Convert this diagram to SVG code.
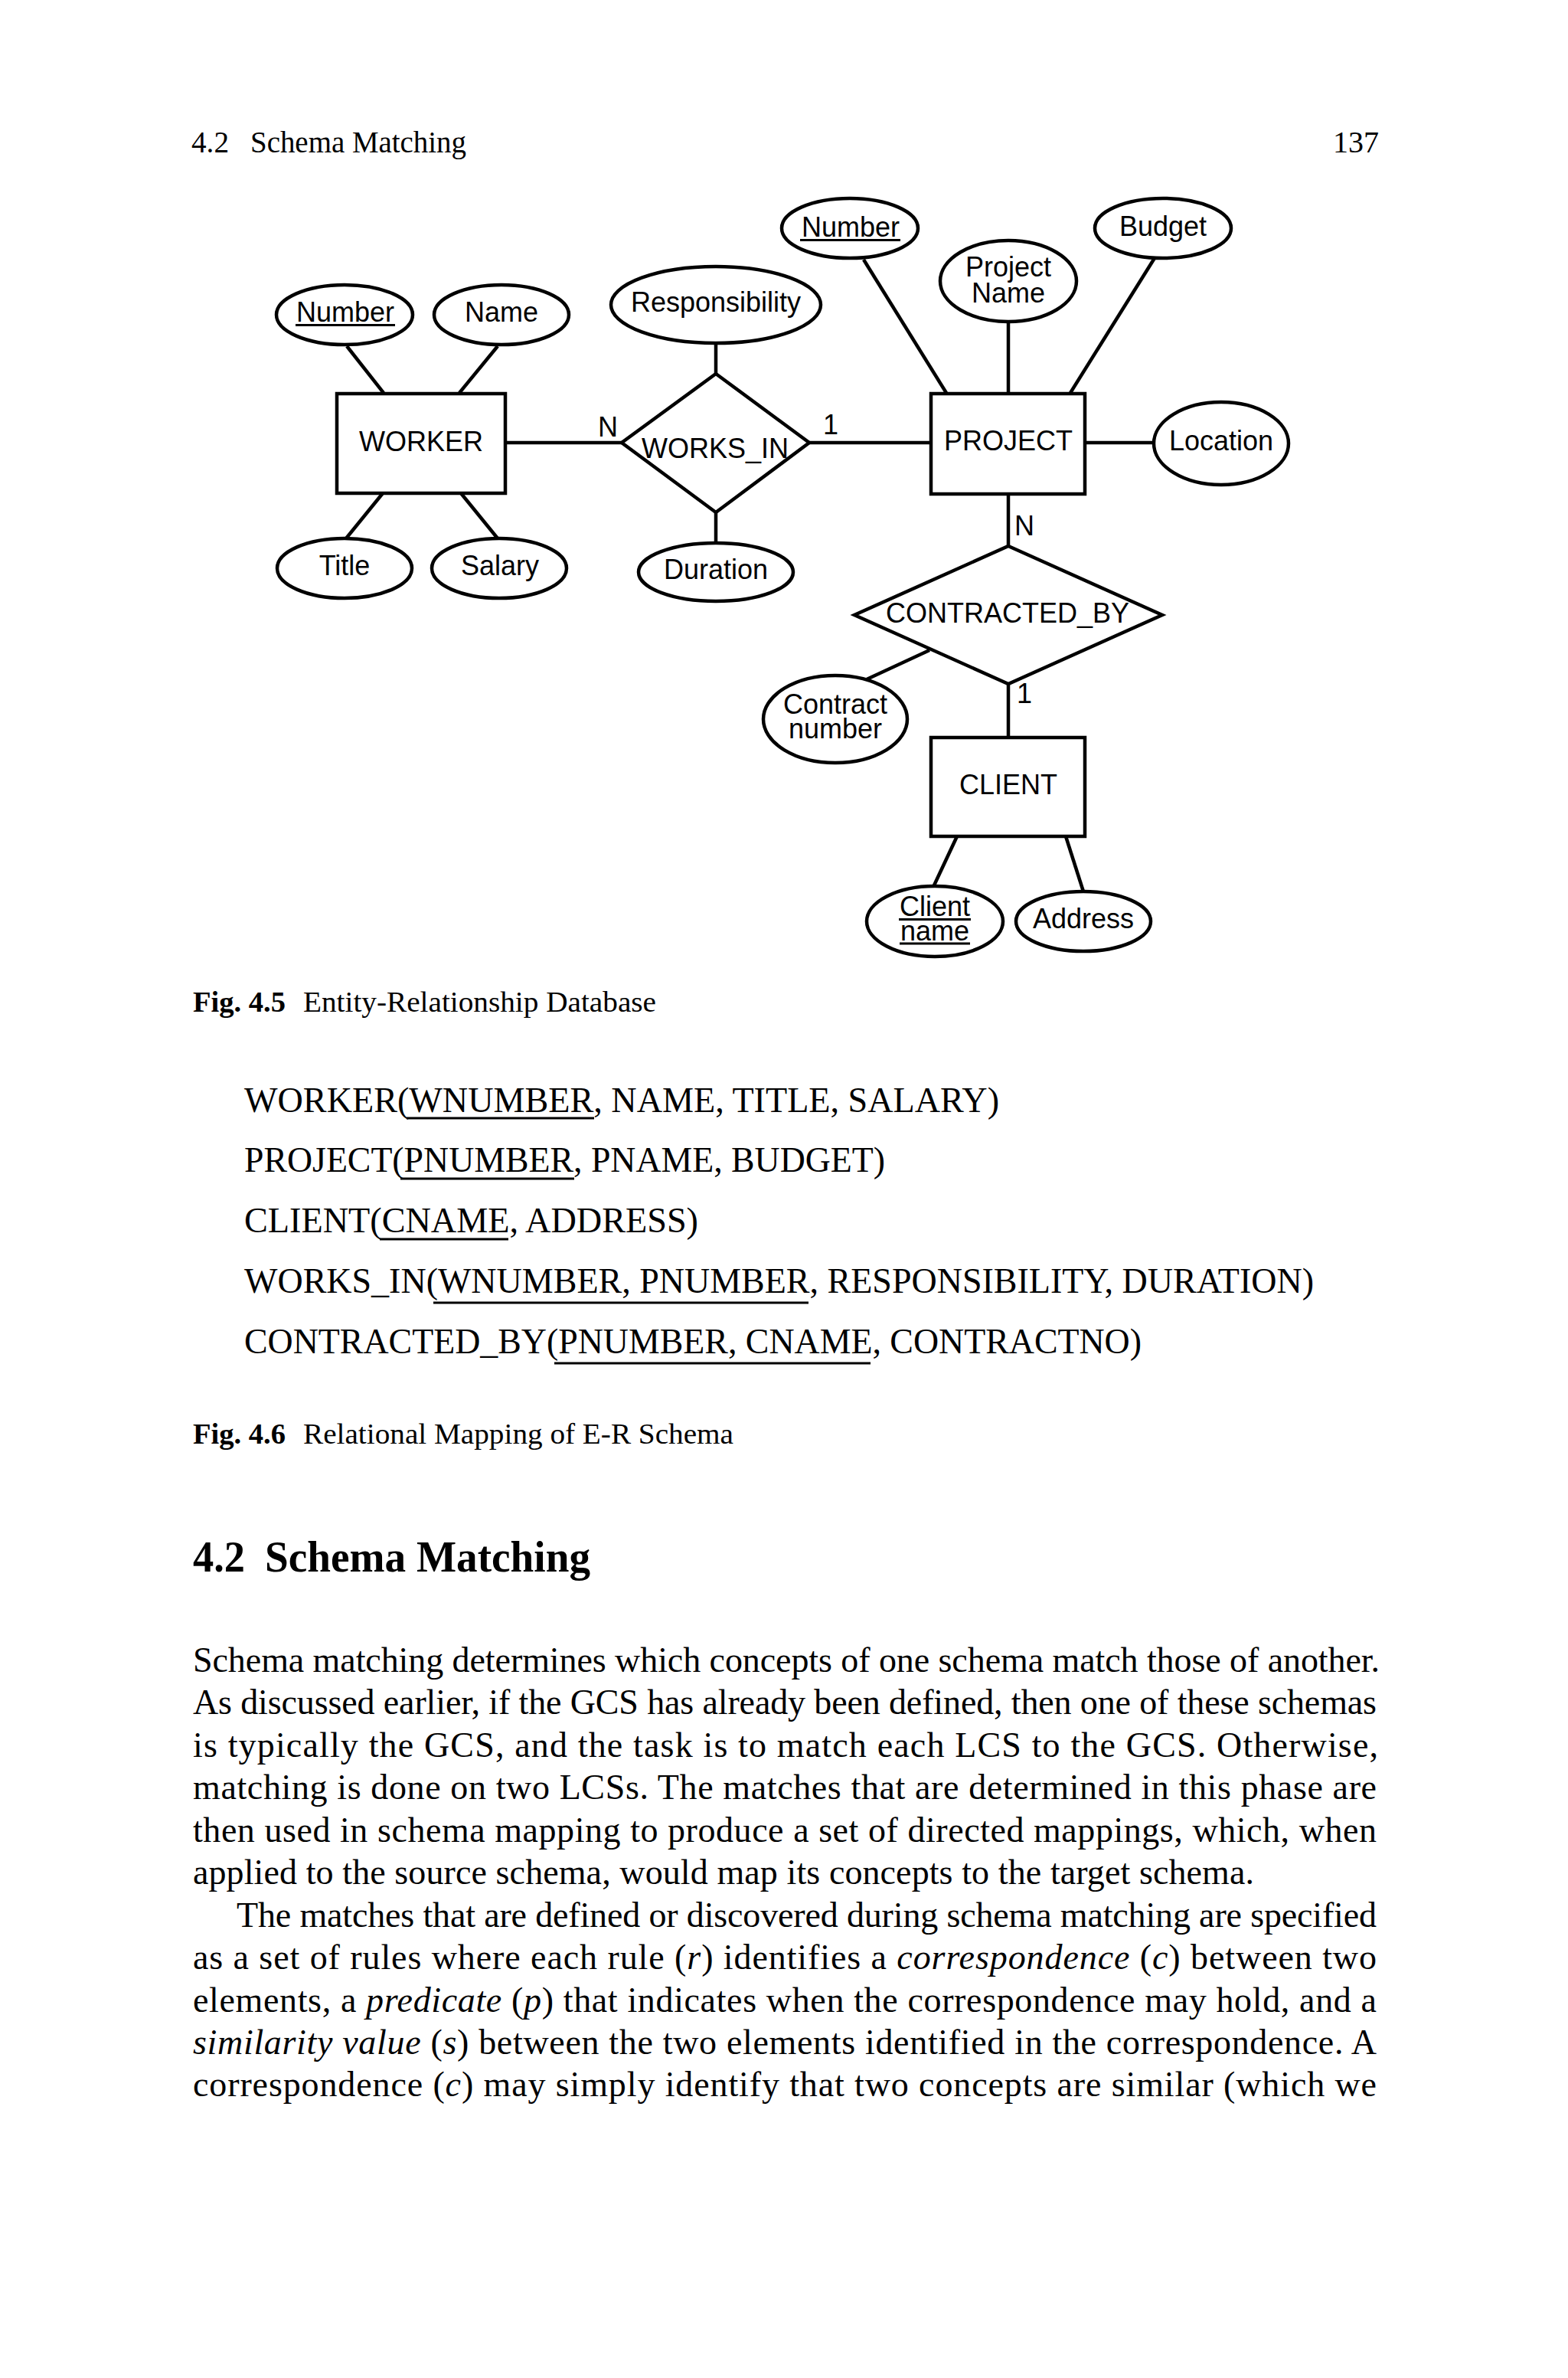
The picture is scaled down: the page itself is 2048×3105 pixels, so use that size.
<svg xmlns="http://www.w3.org/2000/svg" width="2048" height="3105" viewBox="0 0 2048 3105">
<style>
.ln{fill:none;stroke:#000;stroke-width:4.5}
.sh{fill:#fff;stroke:#000;stroke-width:4.5}
.dt{font-family:"Liberation Sans",Arial,sans-serif;font-size:36px;text-anchor:middle;fill:#000}
.lb{font-family:"Liberation Sans",Arial,sans-serif;font-size:36px;fill:#000}
.ul{stroke:#000;stroke-width:2.8}
.sf{font-family:"Liberation Serif","Times New Roman",serif;fill:#000}
.hdr{font-size:40px}
.cap{font-size:38px}
.bd{font-size:46px}
.it{font-style:italic}
.b{font-weight:bold}
</style>
<rect width="2048" height="3105" fill="#fff"/>

<!-- running header -->
<g id="header">
<text class="sf hdr" x="250" y="199" textLength="49" lengthAdjust="spacingAndGlyphs">4.2</text>
<text class="sf hdr" x="327" y="199" textLength="282" lengthAdjust="spacingAndGlyphs">Schema Matching</text>
<text class="sf hdr" x="1801" y="199" text-anchor="end">137</text>
</g>

<!-- connectors -->
<g id="connectors" class="ln">
<line x1="453" y1="452" x2="501" y2="513"/>
<line x1="650" y1="452" x2="600" y2="513"/>
<line x1="500" y1="644" x2="452" y2="703"/>
<line x1="602" y1="644" x2="650" y2="703"/>
<line x1="660" y1="578" x2="812" y2="578"/>
<line x1="935" y1="448" x2="935" y2="488"/>
<line x1="935" y1="669" x2="935" y2="709"/>
<line x1="1057" y1="578" x2="1216" y2="578"/>
<line x1="1128" y1="339" x2="1236" y2="513"/>
<line x1="1317" y1="420" x2="1317" y2="513"/>
<line x1="1508" y1="337" x2="1398" y2="513"/>
<line x1="1418" y1="578" x2="1506" y2="578"/>
<line x1="1317" y1="645" x2="1317" y2="713"/>
<line x1="1317" y1="893" x2="1317" y2="963"/>
<line x1="1132" y1="887" x2="1214" y2="849"/>
<line x1="1250" y1="1092" x2="1220" y2="1156"/>
<line x1="1392" y1="1092" x2="1415" y2="1164"/>
</g>

<!-- cardinality labels -->
<g id="cardinalities">
<text class="lb" x="781" y="570">N</text>
<text class="lb" x="1075" y="567">1</text>
<text class="lb" x="1325" y="699">N</text>
<text class="lb" x="1328" y="918">1</text>
</g>

<!-- WORKER entity and attributes -->
<g id="worker">
<rect class="sh" x="440" y="514" width="220" height="130"/>
<text class="dt" x="550" y="589">WORKER</text>
</g>
<g id="worker-number">
<ellipse class="sh" cx="450" cy="411" rx="89" ry="39"/>
<text class="dt" x="451" y="420">Number</text>
<line class="ul" x1="386" y1="424.5" x2="516" y2="424.5"/>
</g>
<g id="worker-name">
<ellipse class="sh" cx="655" cy="411" rx="88" ry="39"/>
<text class="dt" x="655" y="420">Name</text>
</g>
<g id="worker-title">
<ellipse class="sh" cx="450" cy="742" rx="88" ry="39"/>
<text class="dt" x="450" y="751">Title</text>
</g>
<g id="worker-salary">
<ellipse class="sh" cx="652" cy="742" rx="88" ry="39"/>
<text class="dt" x="653" y="751">Salary</text>
</g>

<!-- WORKS_IN relationship -->
<g id="works-in">
<polygon class="sh" points="935,488 1057,578 935,669 812,578"/>
<text class="dt" x="934" y="598">WORKS_IN</text>
</g>
<g id="responsibility">
<ellipse class="sh" cx="935" cy="398" rx="137" ry="50"/>
<text class="dt" x="935" y="407">Responsibility</text>
</g>
<g id="duration">
<ellipse class="sh" cx="935" cy="747" rx="101" ry="38"/>
<text class="dt" x="935" y="756">Duration</text>
</g>

<!-- PROJECT entity and attributes -->
<g id="project">
<rect class="sh" x="1216" y="514" width="201" height="131"/>
<text class="dt" x="1317" y="588">PROJECT</text>
</g>
<g id="project-number">
<ellipse class="sh" cx="1110" cy="298" rx="89" ry="39"/>
<text class="dt" x="1111" y="309">Number</text>
<line class="ul" x1="1045" y1="313.5" x2="1176" y2="313.5"/>
</g>
<g id="project-name">
<ellipse class="sh" cx="1317" cy="367" rx="89" ry="53"/>
<text class="dt" x="1317" y="361">Project<tspan x="1317" dy="34">Name</tspan></text>
</g>
<g id="budget">
<ellipse class="sh" cx="1519" cy="298" rx="89" ry="39"/>
<text class="dt" x="1519" y="308">Budget</text>
</g>
<g id="location">
<ellipse class="sh" cx="1595" cy="579" rx="88" ry="54"/>
<text class="dt" x="1595" y="588">Location</text>
</g>

<!-- CONTRACTED_BY relationship -->
<g id="contracted-by">
<polygon class="sh" points="1317,713 1518,803 1317,893 1116,803"/>
<text class="dt" x="1316" y="813">CONTRACTED_BY</text>
</g>
<g id="contract-number">
<ellipse class="sh" cx="1091" cy="939" rx="94" ry="57"/>
<text class="dt" x="1091" y="932">Contract<tspan x="1091" dy="32">number</tspan></text>
</g>

<!-- CLIENT entity and attributes -->
<g id="client">
<rect class="sh" x="1216" y="963" width="201" height="129"/>
<text class="dt" x="1317" y="1037">CLIENT</text>
</g>
<g id="client-name">
<ellipse class="sh" cx="1221" cy="1203" rx="89" ry="46"/>
<text class="dt" x="1221" y="1196">Client<tspan x="1221" dy="32">name</tspan></text>
<line class="ul" x1="1174" y1="1200.5" x2="1268" y2="1200.5"/>
<line class="ul" x1="1175" y1="1232" x2="1267" y2="1232"/>
</g>
<g id="address">
<ellipse class="sh" cx="1415" cy="1203" rx="88" ry="39"/>
<text class="dt" x="1415" y="1212">Address</text>
</g>

<!-- Figure 4.5 caption -->
<g id="caption-4-5">
<text class="sf cap b" x="252" y="1321" textLength="121" lengthAdjust="spacingAndGlyphs">Fig. 4.5</text>
<text class="sf cap" x="396" y="1321" textLength="461" lengthAdjust="spacingAndGlyphs">Entity-Relationship Database</text>
</g>

<!-- Relational mapping -->
<g id="relations">
<text class="sf bd" x="319" y="1452" textLength="986" lengthAdjust="spacingAndGlyphs">WORKER(WNUMBER, NAME, TITLE, SALARY)</text>
<line class="ul" x1="531" y1="1460" x2="776" y2="1460"/>
<text class="sf bd" x="319" y="1530" textLength="837" lengthAdjust="spacingAndGlyphs">PROJECT(PNUMBER, PNAME, BUDGET)</text>
<line class="ul" x1="523" y1="1539" x2="750" y2="1539"/>
<text class="sf bd" x="319" y="1609" textLength="593" lengthAdjust="spacingAndGlyphs">CLIENT(CNAME, ADDRESS)</text>
<line class="ul" x1="496" y1="1618" x2="664" y2="1618"/>
<text class="sf bd" x="319" y="1688" textLength="1397" lengthAdjust="spacingAndGlyphs">WORKS_IN(WNUMBER, PNUMBER, RESPONSIBILITY, DURATION)</text>
<line class="ul" x1="566" y1="1701" x2="1056" y2="1701"/>
<text class="sf bd" x="319" y="1767" textLength="1172" lengthAdjust="spacingAndGlyphs">CONTRACTED_BY(PNUMBER, CNAME, CONTRACTNO)</text>
<line class="ul" x1="724" y1="1780" x2="1137" y2="1780"/>
</g>

<!-- Figure 4.6 caption -->
<g id="caption-4-6">
<text class="sf cap b" x="252" y="1885" textLength="121" lengthAdjust="spacingAndGlyphs">Fig. 4.6</text>
<text class="sf cap" x="396" y="1885" textLength="562" lengthAdjust="spacingAndGlyphs">Relational Mapping of E-R Schema</text>
</g>

<!-- Section heading -->
<g id="heading">
<text class="sf b" font-size="56" x="252" y="2052" textLength="68" lengthAdjust="spacingAndGlyphs">4.2</text>
<text class="sf b" font-size="56" x="346" y="2052" textLength="425" lengthAdjust="spacingAndGlyphs">Schema Matching</text>
</g>

<!-- Body text -->
<g id="body" class="sf bd">
<text x="252" y="2183" textLength="1550" lengthAdjust="spacing">Schema matching determines which concepts of one schema match those of another.</text>
<text x="252" y="2238" textLength="1546" lengthAdjust="spacing">As discussed earlier, if the GCS has already been defined, then one of these schemas</text>
<text x="252" y="2294" textLength="1548" lengthAdjust="spacing">is typically the GCS, and the task is to match each LCS to the GCS. Otherwise,</text>
<text x="252" y="2349" textLength="1546" lengthAdjust="spacing">matching is done on two LCSs. The matches that are determined in this phase are</text>
<text x="252" y="2405" textLength="1546" lengthAdjust="spacing">then used in schema mapping to produce a set of directed mappings, which, when</text>
<text x="252" y="2460" textLength="1386" lengthAdjust="spacing">applied to the source schema, would map its concepts to the target schema.</text>
<text x="309" y="2516" textLength="1489" lengthAdjust="spacing">The matches that are defined or discovered during schema matching are specified</text>
<text x="252" y="2571" textLength="1546" lengthAdjust="spacing">as a set of rules where each rule (<tspan class="it">r</tspan>) identifies a <tspan class="it">correspondence</tspan> (<tspan class="it">c</tspan>) between two</text>
<text x="252" y="2627" textLength="1546" lengthAdjust="spacing">elements, a <tspan class="it">predicate</tspan> (<tspan class="it">p</tspan>) that indicates when the correspondence may hold, and a</text>
<text x="252" y="2682" textLength="1546" lengthAdjust="spacing"><tspan class="it">similarity value</tspan> (<tspan class="it">s</tspan>) between the two elements identified in the correspondence. A</text>
<text x="252" y="2737" textLength="1546" lengthAdjust="spacing">correspondence (<tspan class="it">c</tspan>) may simply identify that two concepts are similar (which we</text>
</g>
</svg>
